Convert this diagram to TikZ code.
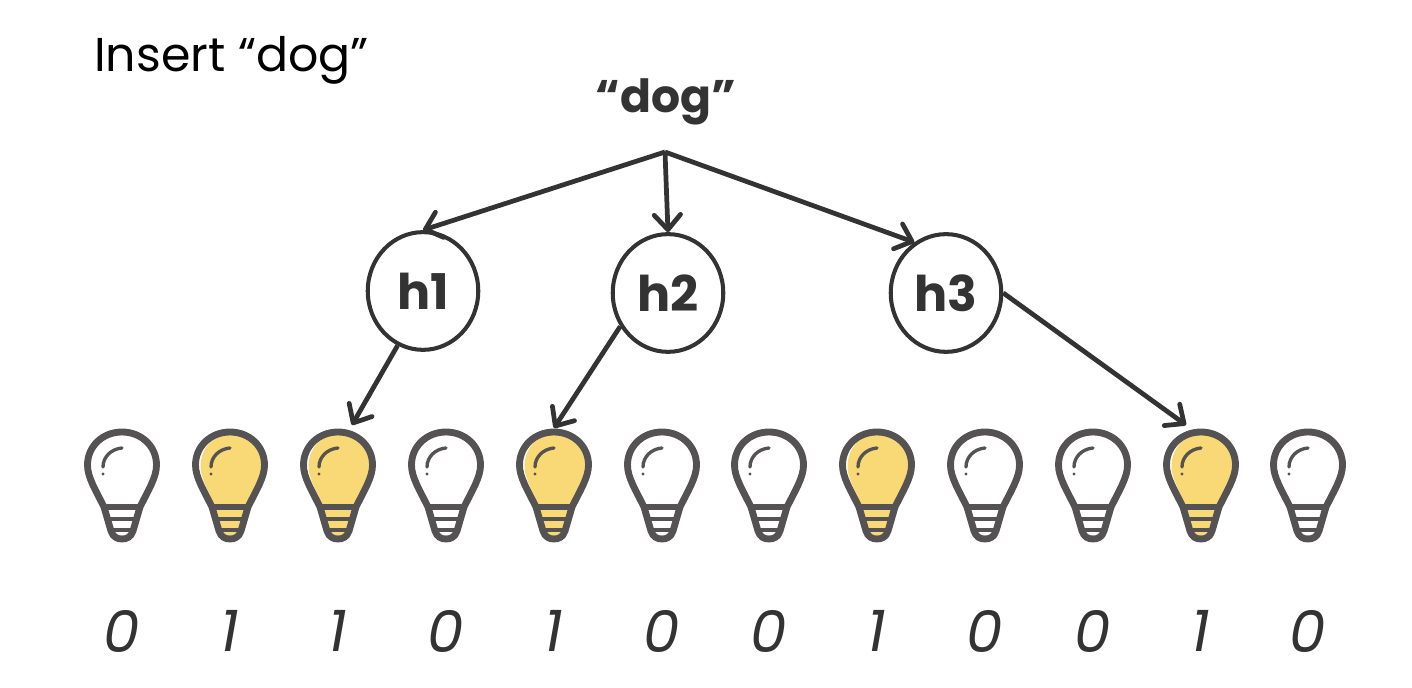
\documentclass[tikz,border=0pt]{standalone}
\usepackage{fontspec}
\setmainfont{Poppins}
\usetikzlibrary{positioning,arrows.meta,shapes.geometric}
\definecolor{inkDark}{HTML}{333333}
\definecolor{bulbGrey}{HTML}{555253}
\definecolor{bulbYellow}{HTML}{F9D976}

\begin{document}
\begin{tikzpicture}[
    x=0.02cm, y=-0.02cm,
    hashStyle/.style={ellipse, draw=inkDark, fill=white, line width=2.3pt, minimum width=62.9pt, minimum height=67pt, inner sep=0pt, text=inkDark, font=\fontsize{28}{28}\selectfont\bfseries},
    arrowStyle/.style={-{Straight Barb[length=8.5pt,width=15pt,round]}, line width=2.7pt, draw=inkDark},
    bitStyle/.style={text=inkDark, font=\fontsize{33}{33}\selectfont\itshape},
    bulb/.pic={
        \fill[pic actions, xshift=0.03cm] (-31,2) .. controls (-31,-18) and (-17,-31) .. (0,-31) .. controls (17,-31) and (31,-18) .. (31,2)
            .. controls (31,12) and (24,24) .. (17,42) -- (8,72) -- (-8,72) -- (-17,42) .. controls (-24,24) and (-31,12) .. (-31,2) -- cycle;
        \draw[bulbGrey, line width=3.9pt, line join=round] (-34.5,0) .. controls (-34.5,-19) and (-19,-33) .. (0,-33) .. controls (19,-33) and (34.5,-19) .. (34.5,0)
            .. controls (34.5,12) and (27,24) .. (18,42) -- (11,66) .. controls (9,72) and (5,74) .. (0,74) .. controls (-5,74) and (-9,72) .. (-11,66) -- (-18,42)
            .. controls (-27,24) and (-34.5,12) .. (-34.5,0) -- cycle;
        \draw[bulbGrey, line width=3.9pt] (-18,42) -- (18,42);
        \draw[bulbGrey, line width=2.3pt] (-14,54) -- (14,54);
        \draw[bulbGrey, line width=2.3pt] (-11,65) -- (11,65);
        \draw[bulbGrey, line width=1.9pt, line cap=round] (0,-17) .. controls (-11,-16) and (-19,-8) .. (-19,2);
        \fill[bulbGrey] (-19,9) circle (1.6);
        \coordinate (-top) at (0,-37);
        \coordinate (-left) at (-15,-40);
        \coordinate (-right) at (14,-40);
    }
]
    \useasboundingbox (0,0) rectangle (1412,688);

    \node[text=black, font=\fontsize{27}{27}\selectfont, anchor=base west] (title) at (88,72) {Insert ``dog''};
    \node[text=inkDark, font=\fontsize{26}{26}\selectfont\bfseries, anchor=base] (word) at (666,113) {``dog''};
    \coordinate (fork) at (665,152);

    \node[hashStyle] (h1) at (423,291) {h1};
    \node[hashStyle] (h2) at (668,293) {h2};
    \node[hashStyle] (h3) at (946,293) {h3};

    % Row of bulbs with the bit printed below each one
    \foreach \pos/\bit [count=\i] in {122/0, 230/1, 338/1, 446/0, 554/1, 662/0, 769/0, 877/1, 985/0, 1093/0, 1201/1, 1308/0} {
        \ifnum\bit=1
            \pic[fill=bulbYellow] (bulb\i) at (\pos,465) {bulb};
        \else
            \pic[fill=white] (bulb\i) at (\pos,465) {bulb};
        \fi
        \node[bitStyle] (bit\i) at (\pos,631) {\bit};
    }

    \draw[arrowStyle] (fork) -- (h1.north);
    \draw[arrowStyle] (fork) -- (h2.north);
    \draw[arrowStyle] (fork) -- (h3.122);
    \draw[arrowStyle] (h1.245) -- (bulb3-right);
    \draw[arrowStyle] (h2.215) -- (bulb5-top);
    \draw[arrowStyle] (h3.east) -- (bulb11-left);
\end{tikzpicture}
\end{document}
